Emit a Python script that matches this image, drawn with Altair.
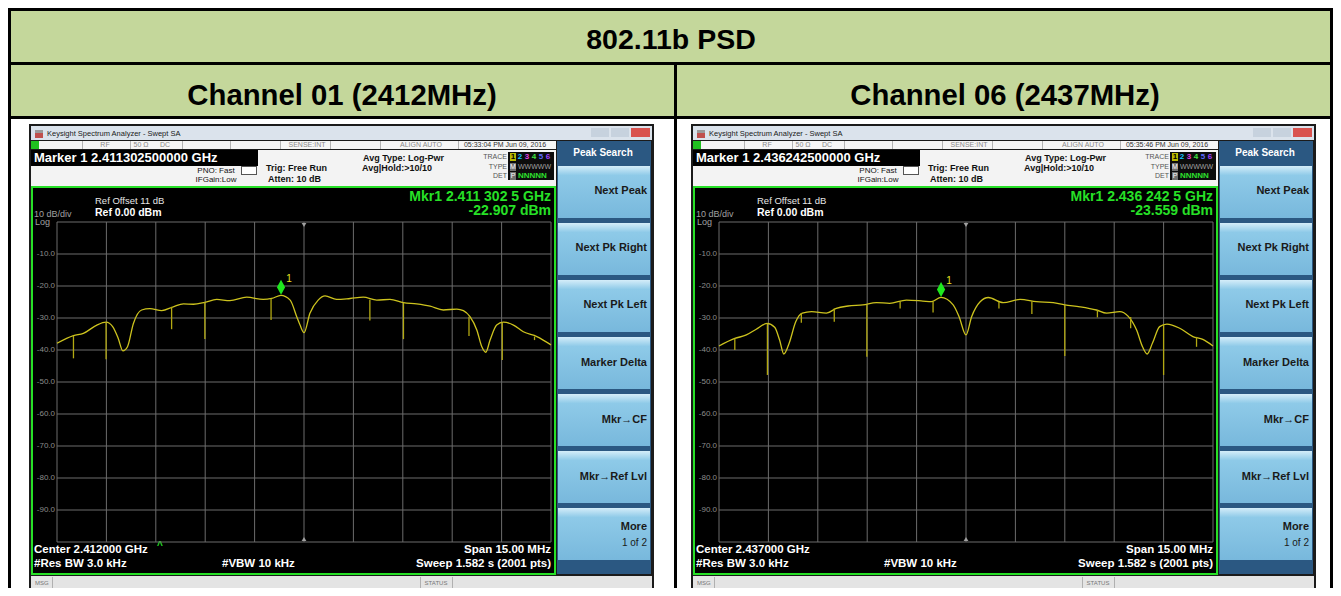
import altair as alt
import pandas as pd

FONT = "Liberation Sans"

# ---------------- text content ----------------
table_title = "802.11b PSD"
channel_titles = ["Channel 01 (2412MHz)", "Channel 06 (2437MHz)"]
marker_bar_texts = ["Marker 1 2.411302500000 GHz", "Marker 1 2.436242500000 GHz"]
timestamps = ["05:33:04 PM Jun 09, 2016", "05:35:46 PM Jun 09, 2016"]
marker_readouts = ["Mkr1 2.411 302 5 GHz", "Mkr1 2.436 242 5 GHz"]
marker_levels = ["-22.907 dBm", "-23.559 dBm"]
center_texts = ["Center 2.412000 GHz", "Center 2.437000 GHz"]
softkeys = ["Next Peak", "Next Pk Right", "Next Pk Left", "Marker Delta",
            "Mkr\u2192CF", "Mkr\u2192Ref Lvl", "More"]

# ---------------- axes (offset from center, MHz ; level dBm) ----------------
freq_ticks = [-7.5, -6.0, -4.5, -3.0, -1.5, 0.0, 1.5, 3.0, 4.5, 6.0, 7.5]
level_ticks = [0, -10, -20, -30, -40, -50, -60, -70, -80, -90, -100]
label_levels = [-10, -20, -30, -40, -50, -60, -70, -80, -90]
level_labels = ["-10.0", "-20.0", "-30.0", "-40.0", "-50.0", "-60.0", "-70.0", "-80.0", "-90.0"]

# ---------------- channel 01 trace ----------------
ch01_freq = [-7.5, -7.0, -6.7, -6.29, -6.01, -5.81, -5.64, -5.5, -5.36, -5.18, -4.93, -4.68, -4.32,
             -3.97, -3.66, -3.36, -3.01, -2.65, -2.25, -1.74, -1.24, -0.98, -0.7, -0.42, -0.22, -0.12,
             0.0, 0.18, 0.43, 0.64, 0.99, 1.4, 1.8, 2.21, 2.61, 3.02, 3.42, 3.83, 4.23, 4.64, 4.84,
             5.04, 5.25, 5.4, 5.52, 5.65, 5.85, 6.05, 6.36, 6.66, 7.07, 7.5]
ch01_level = [-37.9, -35.5, -34.8, -32.2, -31.3, -32.7, -36.4, -40.3, -39.0, -31.7, -27.5, -27.1, -27.7,
              -26.5, -25.6, -25.7, -25.1, -24.2, -24.6, -23.5, -24.2, -23.9, -22.9, -24.4, -29.6, -32.2,
              -34.6, -28.5, -24.4, -23.1, -24.2, -23.9, -23.5, -24.4, -24.2, -25.2, -25.6, -26.3, -27.5,
              -27.2, -27.7, -29.6, -33.8, -39.0, -40.7, -36.9, -32.2, -31.3, -32.2, -34.3, -35.8, -38.4]
ch01_spike_freq = [-7.0, -6.01, -4.02, -3.01, -1.0, 2.0, 3.02, 5.01, 6.02, 7.0]
ch01_spike_top = [-35.5, -31.3, -26.5, -25.1, -23.9, -24.3, -25.2, -29.6, -31.3, -35.8]
ch01_spike_bottom = [-42.6, -42.9, -33.5, -36.6, -30.6, -30.8, -36.6, -35.6, -43.1, -36.9]
ch01_marker = [-0.6975, -22.907]

# ---------------- channel 06 trace ----------------
ch06_freq = [-7.5, -7.02, -6.67, -6.37, -6.04, -5.81, -5.66, -5.53, -5.37, -5.17, -4.97, -4.69, -4.24,
             -3.94, -3.58, -3.13, -2.72, -2.32, -1.81, -1.31, -1.05, -0.76, -0.39, -0.21, 0.0, 0.17,
             0.43, 0.68, 1.13, 1.64, 2.14, 2.65, 3.0, 3.46, 3.96, 4.27, 4.67, 4.92, 5.18, 5.36, 5.5,
             5.66, 5.88, 6.1, 6.49, 6.89, 7.19, 7.5]
ch06_level = [-38.75, -36.4, -35.3, -33.5, -31.7, -32.9, -36.9, -41.25, -37.9, -31.2, -28.5, -28.0, -28.5,
              -27.0, -26.25, -25.9, -25.2, -25.4, -24.4, -24.7, -24.9, -23.56, -25.9, -29.6, -35.3, -29.6,
              -24.9, -23.6, -25.2, -24.2, -24.9, -25.2, -25.9, -26.5, -27.5, -28.5, -28.0, -29.4, -33.75,
              -39.0, -41.25, -37.9, -32.7, -31.9, -33.2, -35.8, -36.7, -38.75]
ch06_spike_freq = [-7.02, -6.03, -5.0, -4.0, -3.01, -2.0, -1.0, 1.0, 2.0, 3.0, 3.99, 5.0, 6.0, 7.0]
ch06_spike_top = [-36.4, -31.7, -28.5, -27.0, -25.9, -24.8, -24.9, -25.0, -24.8, -25.9, -27.5, -29.7, -31.9, -35.9]
ch06_spike_bottom = [-40.0, -47.8, -31.5, -31.2, -42.1, -27.0, -28.3, -27.0, -28.75, -41.9, -29.8, -33.2, -47.8, -39.0]
ch06_marker = [-0.7575, -23.559]

traces = [
    (ch01_freq, ch01_level, ch01_spike_freq, ch01_spike_top, ch01_spike_bottom, ch01_marker),
    (ch06_freq, ch06_level, ch06_spike_freq, ch06_spike_top, ch06_spike_bottom, ch06_marker),
]

# ---------------- layout helpers (page pixel layout, not data) ----------------
M = 8  # page margin
PANEL_DX = [0, 662]
TRACE = "#cdc31e"
SPIKE = "#b3a912"
GREEN = "#27e027"


def rect_layer(rows, **kw):
    df = pd.DataFrame(rows, columns=["x", "y", "x2", "y2", "c"])
    for k in ["x", "x2", "y", "y2"]:
        df[k] = df[k] - M
    return alt.Chart(df).mark_rect(**kw).encode(
        x=alt.X("x:Q", scale=None), x2="x2:Q",
        y=alt.Y("y:Q", scale=None), y2="y2:Q",
        color=alt.Color("c:N", scale=None))


def grad_rect_layer(rows, gradient):
    df = pd.DataFrame(rows, columns=["x", "y", "x2", "y2"])
    for k in ["x", "x2", "y", "y2"]:
        df[k] = df[k] - M
    return alt.Chart(df).mark_rect(color=gradient).encode(
        x=alt.X("x:Q", scale=None), x2="x2:Q",
        y=alt.Y("y:Q", scale=None), y2="y2:Q")


def text_layer(rows, align="left", weight="normal", baseline="middle"):
    df = pd.DataFrame(rows, columns=["x", "y", "t", "s", "c"])
    df["x"] = df["x"] - M
    df["y"] = df["y"] - M
    return alt.Chart(df).mark_text(align=align, baseline=baseline, fontWeight=weight, font=FONT).encode(
        x=alt.X("x:Q", scale=None), y=alt.Y("y:Q", scale=None), text="t:N",
        size=alt.Size("s:Q", scale=None), color=alt.Color("c:N", scale=None))


layers = []

# ---------------- table ----------------
layers.append(rect_layer([
    (8, 8, 1333, 64, "#C4D79B"),
    (8, 64, 1333, 118, "#C4D79B"),
    (8, 8, 1333, 11, "#000000"),
    (8, 62, 1333, 65, "#000000"),
    (8, 116, 1333, 119, "#000000"),
    (8, 8, 11, 600, "#000000"),
    (1330, 8, 1333, 600, "#000000"),
    (674, 62, 677, 600, "#000000"),
]))
layers.append(text_layer([
    (671, 40, table_title, 28.5, "#000000"),
    (342, 96, channel_titles[0], 29.3, "#000000"),
    (1005, 96, channel_titles[1], 29.3, "#000000"),
], align="center", weight="bold"))

btn_grad = alt.LinearGradient(
    gradient="linear",
    stops=[alt.GradientStop(color="#d4edf9", offset=0),
           alt.GradientStop(color="#8ecae8", offset=0.18),
           alt.GradientStop(color="#78b8dc", offset=1)],
    x1=0, x2=0, y1=0, y2=1)

for i, dx in enumerate(PANEL_DX):
    f, v, sf, st, sb, mk = traces[i]

    def X(x):
        return x + dx

    # window chrome
    rows = [
        (X(29), 124, X(654), 600, "#1b1b1b"),
        (X(31), 126, X(652), 140, "#dbe3ec"),
        (X(35), 130, X(43), 133, "#9a9a9a"),
        (X(35), 133, X(43), 138, "#c0504d"),
        (X(591), 128, X(609), 137, "#c7d2de"),
        (X(611), 128, X(629), 137, "#c7d2de"),
        (X(631), 128, X(650), 137, "#d9534f"),
        (X(31), 141, X(556), 149, "#f6f6f6"),
        (X(31), 141, X(39), 149, "#20c020"),
        (X(31), 150, X(556), 186, "#f3f3f3"),
        (X(31), 150, X(258), 166, "#000000"),
        (X(241), 166, X(257), 175, "#555555"),
        (X(242), 167, X(256), 174, "#ffffff"),
        (X(508), 152, X(554), 180, "#0c0c0c"),
        (X(510), 153, X(516), 161, "#b9b900"),
        (X(510), 163, X(516), 171, "#707070"),
        (X(510), 172, X(516), 180, "#707070"),
        (X(557), 141, X(651), 574, "#2b5882"),
        (X(31), 186, X(556), 575, GREEN),
        (X(33), 188, X(554), 573, "#000000"),
        (X(31), 576, X(652), 591, "#e4e4e4"),
        (X(52), 577, X(53), 590, "#b0b0b0"),
        (X(420), 577, X(421), 590, "#b0b0b0"),
        (X(452), 577, X(453), 590, "#b0b0b0"),
    ]
    for sx in [82, 130, 182, 230, 280, 330, 380, 458]:
        rows.append((X(sx), 141, X(sx) + 1, 149, "#b4b4b4"))
    layers.append(rect_layer(rows))

    btn_tops = [166, 223, 280, 337, 394, 451, 508]
    layers.append(grad_rect_layer([(X(558), t, X(650), t + 52) for t in btn_tops], btn_grad))

    # chrome texts
    layers.append(text_layer([
        (X(47), 134, "Keysight Spectrum Analyzer - Swept SA", 7.5, "#1a1a1a"),
    ]))
    layers.append(text_layer([
        (X(34), 158, marker_bar_texts[i], 13, "#ffffff"),
    ], weight="bold"))
    layers.append(text_layer([
        (X(105), 145, "RF", 7, "#8a8a8a"),
        (X(141), 145, "50 \u03a9", 7, "#8a8a8a"),
        (X(165), 145, "DC", 7, "#8a8a8a"),
        (X(307), 145, "SENSE:INT", 7, "#8a8a8a"),
        (X(421), 145, "ALIGN AUTO", 7, "#8a8a8a"),
        (X(505), 145, timestamps[i], 7, "#333333"),
        (X(216), 171, "PNO: Fast", 8, "#111111"),
        (X(216), 180, "IFGain:Low", 8, "#111111"),
        (X(513), 167, "M", 7, "#ffffff"),
        (X(513), 176, "P", 7, "#ffffff"),
        (X(436), 583, "STATUS", 6, "#777777"),
    ], align="center"))
    layers.append(text_layer([
        (X(513), 157, "1", 8, "#000000"),
        (X(520), 157, "2", 8, "#18c8ff"),
        (X(527), 157, "3", 8, "#e040e0"),
        (X(534), 157, "4", 8, "#40e040"),
        (X(541), 157, "5", 8, "#5a6aff"),
        (X(548), 157, "6", 8, "#a040ff"),
    ], align="center", weight="bold"))
    layers.append(text_layer([
        (X(518), 167, "WWWWW", 7, "#a0a0a0"),
        (X(35), 583, "MSG", 6, "#777777"),
    ]))
    layers.append(text_layer([
        (X(518), 176, "NNNNN", 8, "#2ee02e"),
        (X(266), 168, "Trig: Free Run", 9, "#111111"),
        (X(268), 179, "Atten: 10 dB", 9, "#111111"),
        (X(363), 158, "Avg Type: Log-Pwr", 9, "#111111"),
        (X(362), 168, "Avg|Hold:>10/10", 9, "#111111"),
    ], weight="bold"))
    layers.append(text_layer([
        (X(507), 157, "TRACE", 7, "#555555"),
        (X(507), 167, "TYPE", 7, "#555555"),
        (X(507), 176, "DET", 7, "#555555"),
        (X(647), 543, "1 of 2", 10, "#1a1a1a"),
    ], align="right"))
    layers.append(text_layer([(X(603), 153, "Peak Search", 10, "#ffffff")], align="center", weight="bold"))
    sk_y = [191, 248, 305, 363, 420, 477, 527]
    layers.append(text_layer([(X(647), y, s, 11, "#1a1a1a") for s, y in zip(softkeys, sk_y)],
                             align="right", weight="bold"))

    # display texts
    layers.append(text_layer([
        (X(95), 201, "Ref Offset 11 dB", 9.5, "#e6e6e6"),
        (X(34), 214, "10 dB/div", 9, "#a0a0a0"),
        (X(35), 222, "Log", 9, "#a0a0a0"),
    ]))
    layers.append(text_layer([
        (X(95), 213, "Ref 0.00 dBm", 10.5, "#ffffff"),
        (X(34), 550, center_texts[i], 11.5, "#ffffff"),
        (X(34), 564, "#Res BW 3.0 kHz", 11.5, "#ffffff"),
        (X(222), 564, "#VBW 10 kHz", 11.5, "#ffffff"),
    ], weight="bold"))
    layers.append(text_layer([
        (X(551), 550, "Span 15.00 MHz", 11.5, "#ffffff"),
        (X(551), 564, "Sweep  1.582 s (2001 pts)", 11.5, "#ffffff"),
        (X(551), 197, marker_readouts[i], 14, GREEN),
        (X(551), 211, marker_levels[i], 14, GREEN),
    ], align="right", weight="bold"))
    if i == 0:
        layers.append(text_layer([(X(160), 546, "^", 10, GREEN)], align="center", weight="bold"))

    # ---- data-driven graticule and trace ----
    xs = alt.Scale(domain=[-7.5, 7.5], range=[X(57) - M, X(551) - M], zero=False, nice=False)
    ys = alt.Scale(domain=[-100, 0], range=[542 - M, 222 - M], zero=False, nice=False)

    vgrid = pd.DataFrame({"f": freq_ticks, "lo": -100, "hi": 0})
    hgrid = pd.DataFrame({"d": level_ticks, "a": -7.5, "b": 7.5})
    layers.append(alt.Chart(vgrid).mark_rule(color="#6c6c6c", strokeWidth=1).encode(
        x=alt.X("f:Q", scale=xs, axis=None), y=alt.Y("lo:Q", scale=ys, axis=None), y2="hi:Q"))
    layers.append(alt.Chart(hgrid).mark_rule(color="#6c6c6c", strokeWidth=1).encode(
        y=alt.Y("d:Q", scale=ys, axis=None), x=alt.X("a:Q", scale=xs, axis=None), x2="b:Q"))

    labs = pd.DataFrame({"d": label_levels, "lab": level_labels})
    layers.append(alt.Chart(labs).mark_text(align="right", baseline="middle", font=FONT,
                                            fontSize=8, color="#8c8c8c").encode(
        y=alt.Y("d:Q", scale=ys, axis=None), x=alt.value(X(55) - M), text="lab:N"))

    tri = pd.DataFrame({"f": [0.0], "top": [0], "bot": [-100]})
    layers.append(alt.Chart(tri).mark_point(shape="triangle-down", filled=True, size=22,
                                            color="#a0a0a0", opacity=1, yOffset=3).encode(
        x=alt.X("f:Q", scale=xs, axis=None), y=alt.Y("top:Q", scale=ys, axis=None)))
    layers.append(alt.Chart(tri).mark_point(shape="triangle-up", filled=True, size=22,
                                            color="#a0a0a0", opacity=1, yOffset=-3).encode(
        x=alt.X("f:Q", scale=xs, axis=None), y=alt.Y("bot:Q", scale=ys, axis=None)))

    tr = pd.DataFrame({"f": f, "v": v})
    layers.append(alt.Chart(tr).mark_line(color=TRACE, strokeWidth=1.3, interpolate="monotone").encode(
        x=alt.X("f:Q", scale=xs, axis=None), y=alt.Y("v:Q", scale=ys, axis=None)))

    sp = pd.DataFrame({"f": sf, "top": st, "bot": sb})
    layers.append(alt.Chart(sp).mark_rule(color=SPIKE, strokeWidth=1.3).encode(
        x=alt.X("f:Q", scale=xs, axis=None), y=alt.Y("top:Q", scale=ys, axis=None), y2="bot:Q"))

    mdf = pd.DataFrame({"f": [mk[0]], "v": [mk[1]], "lab": ["1"]})
    layers.append(alt.Chart(mdf).mark_point(shape="M0,-1L0.55,0L0,1L-0.55,0Z", filled=True, size=225,
                                            color="#1ee81e", opacity=1, yOffset=-8).encode(
        x=alt.X("f:Q", scale=xs, axis=None), y=alt.Y("v:Q", scale=ys, axis=None)))
    layers.append(alt.Chart(mdf).mark_text(color="#e8e820", fontSize=10, font=FONT, dx=8, dy=-16).encode(
        x=alt.X("f:Q", scale=xs, axis=None), y=alt.Y("v:Q", scale=ys, axis=None), text="lab:N"))

chart = alt.layer(*layers).resolve_scale(
    x="independent", y="independent", color="independent", size="independent"
).properties(
    width=1325, height=580, autosize=alt.AutoSizeParams(type="none"), padding=0, background="#ffffff"
).configure_view(stroke=None)

chart.save("out.html", embed_options={"renderer": "svg", "actions": False})
